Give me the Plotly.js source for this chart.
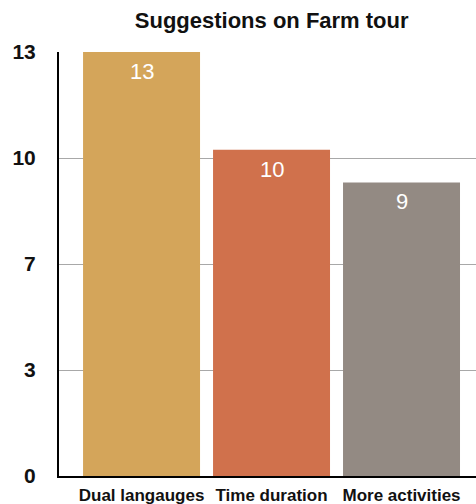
<!DOCTYPE html>
<html>
<head>
<meta charset="utf-8">
<script src="https://cdn.plot.ly/plotly-3.0.1.min.js"></script>
<style>
  html, body { margin: 0; padding: 0; background: #fff; }
  #chart { width: 476px; height: 504px; }
</style>
</head>
<body>
<div id="chart"></div>
<script>
// Survey responses: suggestions collected on the farm tour
const categories = ['Dual langauges', 'Time duration', 'More activities'];
const counts = [13, 10, 9];
const barColors = ['#D4A55A', '#D0714C', '#938A83'];

// Y axis ticks split the range into quarters, labels rounded
const tickValues = [0, 3.25, 6.5, 9.75, 13];
const tickLabels = ['0', '3', '7', '10', '13'];

const FONT = '"Liberation Sans", Arial, Helvetica, sans-serif';

const trace = {
  type: 'bar',
  x: categories,
  y: counts,
  width: 0.9,
  marker: { color: barColors, line: { width: 0 } },
  hoverinfo: 'x+y'
};

// Value labels sit just inside the top of each bar
const valueLabels = categories.map((c, i) => ({
  x: c,
  y: counts[i],
  xref: 'x',
  yref: 'y',
  text: String(counts[i]),
  showarrow: false,
  yanchor: 'top',
  yshift: -5,
  font: { family: FONT, size: 22, color: '#ffffff' }
}));

const layout = {
  width: 476,
  height: 504,
  margin: { l: 59, r: 0, t: 52, b: 28 },
  paper_bgcolor: '#ffffff',
  plot_bgcolor: '#ffffff',
  showlegend: false,
  title: {
    text: '<b>Suggestions on Farm tour</b>',
    font: { family: FONT, size: 22, color: '#111111' },
    x: 0.51,
    xref: 'paper',
    xanchor: 'center',
    y: 0.96,
    yref: 'container',
    yanchor: 'middle'
  },
  xaxis: {
    type: 'category',
    range: [-0.635, 2.573],
    showline: true,
    linecolor: '#000000',
    linewidth: 2,
    showgrid: false,
    zeroline: false,
    ticks: '',
    ticklabelstandoff: 3,
    tickfont: { family: FONT, size: 17, color: '#111111' },
    tickprefix: '<b>',
    ticksuffix: '</b>'
  },
  yaxis: {
    range: [0, 13],
    tickmode: 'array',
    tickvals: tickValues,
    ticktext: tickLabels.map(t => '<b>' + t + '</b>'),
    showline: true,
    linecolor: '#000000',
    linewidth: 2,
    showgrid: true,
    gridcolor: '#a8a8a8',
    gridwidth: 1,
    zeroline: false,
    ticks: '',
    ticklabelstandoff: 17,
    tickfont: { family: FONT, size: 21, color: '#111111' }
  },
  annotations: valueLabels
};

Plotly.newPlot('chart', [trace], layout, { displayModeBar: false, staticPlot: true });
</script>
</body>
</html>
